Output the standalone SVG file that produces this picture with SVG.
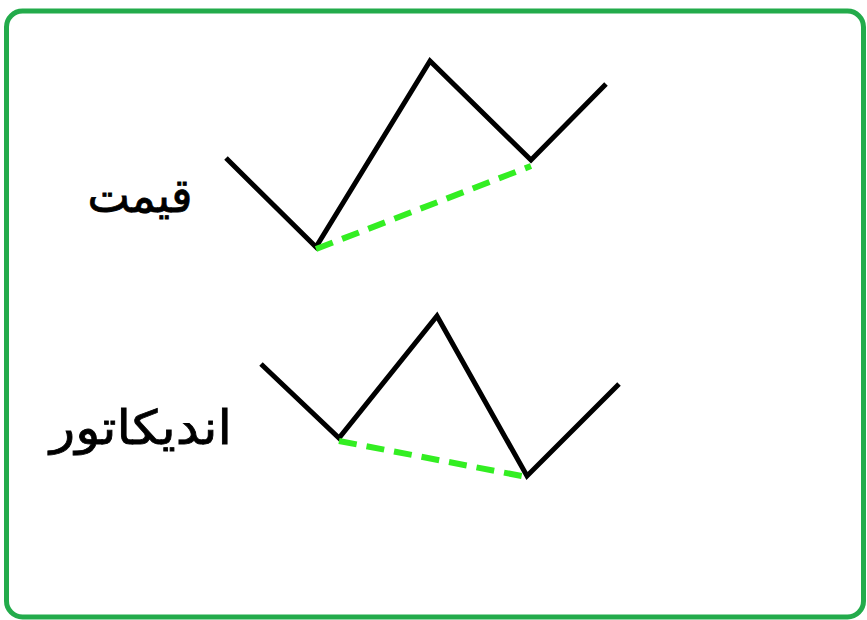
<svg xmlns="http://www.w3.org/2000/svg" width="867" height="620" viewBox="0 0 867 620">
<style>
.frame{fill:#ffffff;stroke:#23ab4b;stroke-width:5}
.zig{fill:none;stroke:#000;stroke-width:5;stroke-linejoin:miter;stroke-linecap:butt}
.div{fill:none;stroke:#33ee22;stroke-width:6;stroke-dasharray:18 10}
.lbl{font-family:"DejaVu Sans","Noto Sans",sans-serif;font-size:47px;fill:#000;stroke:#000;stroke-width:0.8;text-anchor:middle}
</style>
<rect class="frame" x="6.5" y="11" width="857" height="606" rx="16"/>
<g id="price">
<polyline class="zig" points="226,158 316,247 430,61 531,160 606,84"/>
<text class="lbl" x="140" y="212" direction="rtl" textLength="105" lengthAdjust="spacingAndGlyphs">قیمت</text>
</g>
<g id="indicator">
<polyline class="zig" points="261,364 339,438 437,316 527,476 619,384"/>
<text class="lbl" x="141" y="444" direction="rtl" textLength="182" lengthAdjust="spacingAndGlyphs">اندیکاتور</text>
</g>
<g id="connectors">
<line class="div" x1="316" y1="249" x2="531" y2="166"/>
<line class="div" x1="339" y1="441" x2="527" y2="477"/>
</g>
</svg>
